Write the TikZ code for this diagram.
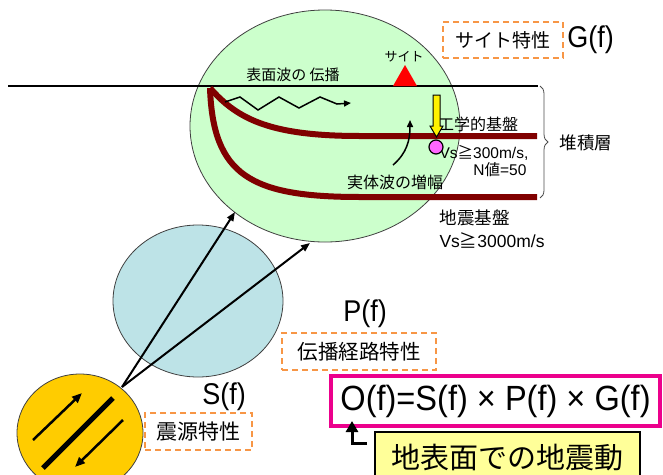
\documentclass[tikz,border=0pt]{standalone}
\usepackage{fontspec}
\setmainfont{Liberation Sans}
\newfontfamily\jp{Noto Sans CJK JP}
\usetikzlibrary{positioning, shapes.geometric, arrows.meta, decorations.pathreplacing}

\definecolor{sitegreen}{HTML}{CCFFCC}
\definecolor{pathblue}{HTML}{BDE3E7}
\definecolor{srcyellow}{HTML}{FFCC00}
\definecolor{layerred}{HTML}{800000}
\definecolor{tagorange}{HTML}{F79646}
\definecolor{notepale}{HTML}{FFFF99}
\definecolor{pointpink}{HTML}{FF66FF}

\newcommand\fsz[1]{\fontsize{#1}{#1}\selectfont}
% narrow Latin for the big function labels
\newcommand\narrow[2]{\scalebox{0.9}[1]{\fsz{#1}#2}}

\tikzset{
  zone/.style={ellipse, draw=black!75, line width=0.8, inner sep=0},
  tag/.style={draw=tagorange, dash pattern=on 6pt off 4pt, line width=1.5, inner sep=0},
  layer/.style={layerred, line width=6},
  ray/.style={line width=2, -{Triangle[length=9pt,width=7pt]}},
  fault/.style={line width=2.5, -{Triangle[length=10pt,width=8pt]}},
}

\begin{document}
\begin{tikzpicture}[x=1pt, y=-1pt]
        \useasboundingbox (0,0) rectangle (663,474);
        \clip (0,0) rectangle (663,474);

        % site, path and source regions
        \node[zone, fill=sitegreen, minimum width=270, minimum height=232] (site) at (325,126) {};
        \node[zone, fill=pathblue, minimum width=170, minimum height=152] (path) at (198,301) {};
        \node[zone, fill=srcyellow, minimum width=126, minimum height=118] (source) at (80,433) {};

        % ground surface and site mark
        \coordinate (gl) at (8,86);
        \coordinate (gr) at (538,86);
        \draw[line width=1.2] (gl) -- (gr);
        \fill[red] (393,86) -- (405,65) -- (417,86) -- cycle;
        \node (sitelbl) at (404,57) {\jp\fsz{13}サイト};

        % layers
        \coordinate (edge) at (210,88);
        \draw[layer] (edge) .. controls (238,120) and (272,136) .. (360,136) -- (537,136);
        \draw[layer] (edge) .. controls (213,175) and (250,197) .. (360,197) -- (537,197);
        \draw[decorate, decoration={brace, amplitude=8}, line width=0.8, black!70] (540,86) -- (540,198);

        % surface wave
        \node (surf) at (293,75) {\jp\fsz{15}表面波の 伝播};
        \draw[line width=1.5, -{Triangle[length=7pt,width=6pt]}] (225,102) -- (240,97) -- (258,110) -- (279,97)
            -- (299,108) -- (320,97) -- (337,104) -- (351,103);

        % body wave
        \node (body) at (395,182) {\jp\fsz{16}実体波の増幅};
        \draw[line width=1.5, -{Triangle[length=7pt,width=6pt]}] (393,165) .. controls (407,153) and (410,140) .. (410,120);

        \node (eng) at (478,124) {\jp\fsz{16}工学的基盤};
        \node (vs1) at (484,153) {\fsz{15.5}Vs{\jp≧}300m/s,};
        \node[anchor=east] (nval) at (530,170) {\fsz{15.5}N{\jp 値}=50};
        \node (depo) at (586,143) {\jp\fsz{17.5}堆積層};
        \node[anchor=west] (bed) at (436,218) {\jp\fsz{17.5}地震基盤};
        \node[anchor=west] (vs2) at (436,240) {\fsz{17.5}Vs{\jp≧}3000m/s};

        % input at the base
        \filldraw[fill=yellow, draw=black, line width=1] (433,95) -- (440,95) -- (440,126) -- (443,126)
            -- (436.5,137) -- (430,126) -- (433,126) -- cycle;
        \node[circle, draw, line width=1.2, fill=pointpink, minimum size=14, inner sep=0] (base) at (436,147) {};

        % rays from the focus
        \coordinate (focus) at (122,387);
        \coordinate (hitA) at (235,212);
        \coordinate (hitB) at (310,243);
        \draw[ray] (focus) -- (hitA);
        \draw[ray] (focus) -- (hitB);

        % fault
        \draw[line width=5] (43,468) -- (113,398);
        \draw[fault] (33,440) -- (82,393);
        \draw[fault] (123,420) -- (75,467);

        % labels
        \node[tag, minimum width=120, minimum height=36] (sitetag) at (503,40) {\jp\fsz{19}サイト特性};
        \node[right=0pt of sitetag] (G) {\narrow{30}{G(f)}};
        \node[tag, minimum width=154, minimum height=37] (pathtag) at (359,351.5) {\jp\fsz{20.5}伝播経路特性};
        \node (P) at (365,314) {\narrow{30}{P(f)}};
        \node[tag, minimum width=107, minimum height=37] (srctag) at (198.5,431.5) {\jp\fsz{21}震源特性};
        \node (S) at (224,397) {\narrow{30}{S(f)}};

        % observed motion
        \node[draw=magenta, line width=4, minimum width=329, minimum height=50, inner sep=0] (eq) at (495.5,401)
            {\scalebox{0.93}[1]{\fsz{35}O(f)=S(f) × P(f) × G(f)}};
        \node[draw, fill=notepale, line width=1.2, minimum width=265, minimum height=52, inner sep=0] (obs) at (507.5,458)
            {\jp\fsz{29}地表面での地震動};
        \coordinate (lstart) at (367,443);
        \coordinate (ltip) at (352,421);
        \draw[line width=3, -{Triangle[length=11pt,width=12pt]}] (lstart) -| (ltip);
    \end{tikzpicture}
\end{document}
